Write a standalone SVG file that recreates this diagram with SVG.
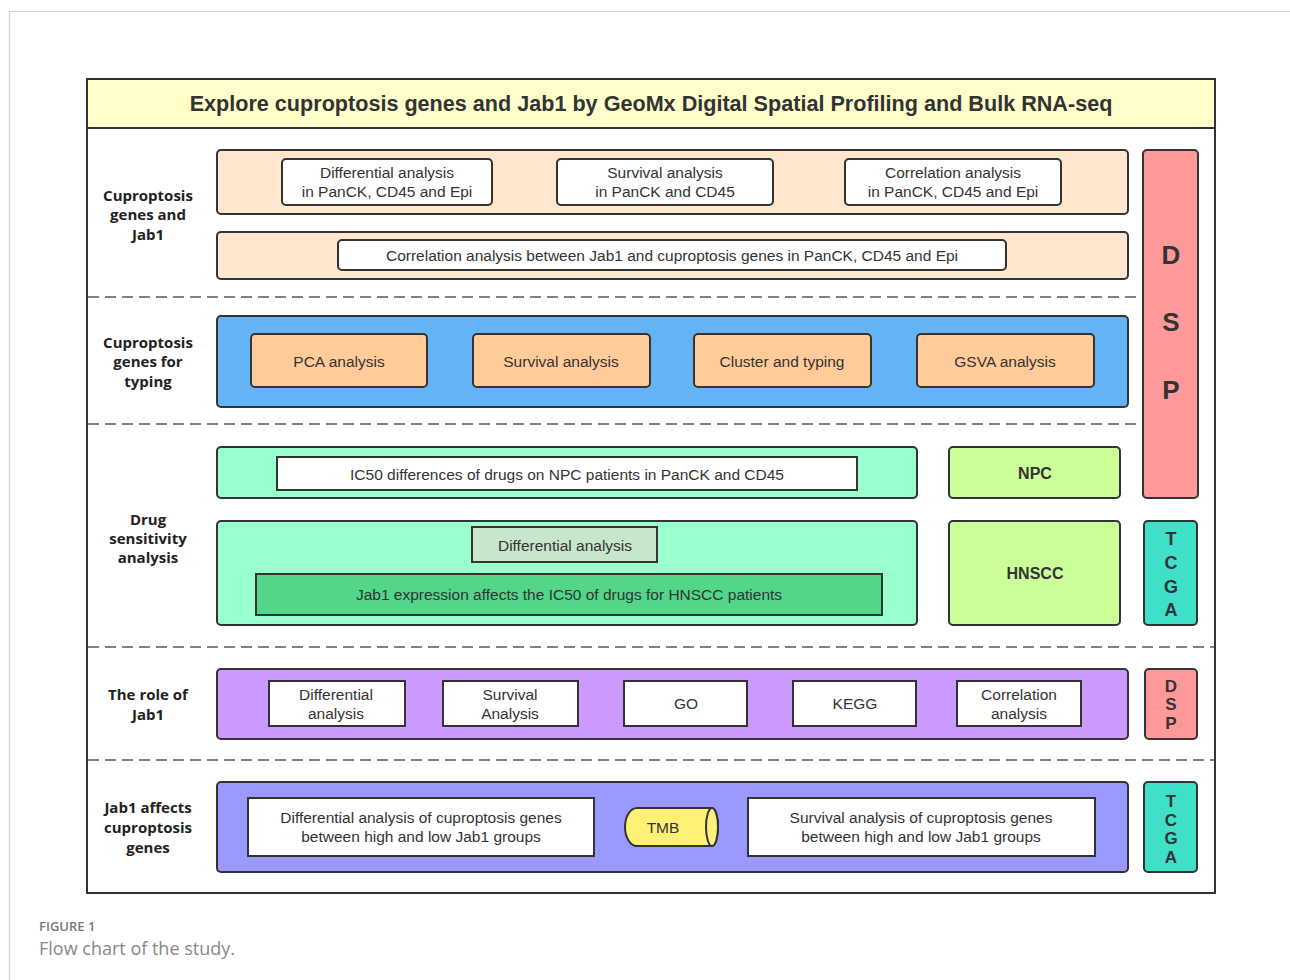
<svg xmlns="http://www.w3.org/2000/svg" width="1290" height="980" viewBox="0 0 1290 980">
<style>
.frame{fill:none;stroke:#d0d0d0;stroke-width:1.2}
.box{stroke:#333;stroke-width:2}
.inner{fill:#fff;stroke:#333;stroke-width:2}
.dash{stroke:#555;stroke-width:1.6;stroke-dasharray:11 6;fill:none}
.t{font-family:"Liberation Sans",Arial,sans-serif;font-size:15.5px;fill:#333;text-anchor:middle}
.lbl{font-family:"Open Sans","Noto Sans",sans-serif;font-size:15px;font-weight:bold;fill:#222;text-anchor:middle}
.big{font-family:"Liberation Sans",Arial,sans-serif;font-weight:bold;fill:#333;text-anchor:middle}
</style>
<rect width="1290" height="980" fill="#fff"/>
<path class="frame" d="M9.5,980 V11.5 H1290"/>

<g id="main">
<rect x="87" y="79" width="1128" height="814" fill="#fff" stroke="#333" stroke-width="2"/>
<rect x="87" y="79" width="1128" height="49" fill="#ffffcc" stroke="#333" stroke-width="2"/>
<text class="big" x="651" y="111" font-size="21.6">Explore cuproptosis genes and Jab1 by GeoMx Digital Spatial Profiling and Bulk RNA-seq</text>
</g>

<g id="dividers">
<line class="dash" x1="88" y1="297" x2="1140" y2="297"/>
<line class="dash" x1="88" y1="424" x2="1140" y2="424"/>
<line class="dash" x1="88" y1="647" x2="1214" y2="647"/>
<line class="dash" x1="88" y1="760" x2="1214" y2="760"/>
</g>

<g id="labels">
<text class="lbl" x="148" y="201">Cuproptosis</text>
<text class="lbl" x="148" y="220">genes and</text>
<text class="lbl" x="148" y="240">Jab1</text>
<text class="lbl" x="148" y="348">Cuproptosis</text>
<text class="lbl" x="148" y="367">genes for</text>
<text class="lbl" x="148" y="387">typing</text>
<text class="lbl" x="148" y="525">Drug</text>
<text class="lbl" x="148" y="544">sensitivity</text>
<text class="lbl" x="148" y="563">analysis</text>
<text class="lbl" x="148" y="700">The role of</text>
<text class="lbl" x="148" y="720">Jab1</text>
<text class="lbl" x="148" y="813">Jab1 affects</text>
<text class="lbl" x="148" y="833">cuproptosis</text>
<text class="lbl" x="148" y="853">genes</text>
</g>

<g id="section1">
<rect class="box" x="217" y="150" width="911" height="64" rx="4" fill="#ffe6cc"/>
<rect class="inner" x="282" y="159" width="210" height="46" rx="4"/>
<text class="t" x="387" y="178">Differential analysis</text>
<text class="t" x="387" y="197">in PanCK, CD45 and Epi</text>
<rect class="inner" x="557" y="159" width="216" height="46" rx="4"/>
<text class="t" x="665" y="178">Survival analysis</text>
<text class="t" x="665" y="197">in PanCK and CD45</text>
<rect class="inner" x="845" y="159" width="216" height="46" rx="4"/>
<text class="t" x="953" y="178">Correlation analysis</text>
<text class="t" x="953" y="197">in PanCK, CD45 and Epi</text>
<rect class="box" x="217" y="232" width="911" height="47" rx="4" fill="#ffe6cc"/>
<rect class="inner" x="338" y="240" width="668" height="30" rx="4"/>
<text class="t" x="672" y="261">Correlation analysis between Jab1 and cuproptosis genes in PanCK, CD45 and Epi</text>
</g>

<g id="dsp-main">
<rect class="box" x="1143" y="150" width="55" height="348" rx="4" fill="#ff9999"/>
<text class="big" x="1171" y="264" font-size="26">D</text>
<text class="big" x="1171" y="331" font-size="26">S</text>
<text class="big" x="1171" y="399" font-size="26">P</text>
</g>

<g id="section2">
<rect class="box" x="217" y="316" width="911" height="91" rx="4" fill="#63b3f5"/>
<rect class="box" x="251" y="334" width="176" height="53" rx="4" fill="#ffcc99"/>
<text class="t" x="339" y="367">PCA analysis</text>
<rect class="box" x="473" y="334" width="177" height="53" rx="4" fill="#ffcc99"/>
<text class="t" x="561" y="367">Survival analysis</text>
<rect class="box" x="694" y="334" width="177" height="53" rx="4" fill="#ffcc99"/>
<text class="t" x="782" y="367">Cluster and typing</text>
<rect class="box" x="917" y="334" width="177" height="53" rx="4" fill="#ffcc99"/>
<text class="t" x="1005" y="367">GSVA analysis</text>
</g>

<g id="section3">
<rect class="box" x="217" y="447" width="700" height="51" rx="4" fill="#99ffcc"/>
<rect class="inner" x="277" y="457" width="580" height="33"/>
<text class="t" x="567" y="480">IC50 differences of drugs on NPC patients in PanCK and CD45</text>
<rect class="box" x="949" y="447" width="171" height="51" rx="4" fill="#ccff99"/>
<text class="big" x="1035" y="479" font-size="16">NPC</text>
<rect class="box" x="217" y="521" width="700" height="104" rx="4" fill="#99ffcc"/>
<rect class="box" x="472" y="527" width="185" height="35" fill="#c8e6c9"/>
<text class="t" x="565" y="551">Differential analysis</text>
<rect class="box" x="256" y="574" width="626" height="41" fill="#52d68a"/>
<text class="t" x="569" y="600">Jab1 expression affects the IC50 of drugs for HNSCC patients</text>
<rect class="box" x="949" y="521" width="171" height="104" rx="4" fill="#ccff99"/>
<text class="big" x="1035" y="579" font-size="16">HNSCC</text>
<rect class="box" x="1144" y="521" width="53" height="104" rx="4" fill="#40e0c8"/>
<text class="big" x="1171" y="545" font-size="18">T</text>
<text class="big" x="1171" y="569" font-size="18">C</text>
<text class="big" x="1171" y="593" font-size="18">G</text>
<text class="big" x="1171" y="616" font-size="18">A</text>
</g>

<g id="section4">
<rect class="box" x="217" y="669" width="911" height="70" rx="4" fill="#cc99ff"/>
<rect class="inner" x="269" y="681" width="136" height="45"/>
<text class="t" x="336" y="700">Differential</text>
<text class="t" x="336" y="719">analysis</text>
<rect class="inner" x="443" y="681" width="135" height="45"/>
<text class="t" x="510" y="700">Survival</text>
<text class="t" x="510" y="719">Analysis</text>
<rect class="inner" x="624" y="681" width="123" height="45"/>
<text class="t" x="686" y="709">GO</text>
<rect class="inner" x="793" y="681" width="123" height="45"/>
<text class="t" x="855" y="709">KEGG</text>
<rect class="inner" x="957" y="681" width="124" height="45"/>
<text class="t" x="1019" y="700">Correlation</text>
<text class="t" x="1019" y="719">analysis</text>
<rect class="box" x="1145" y="669" width="52" height="70" rx="4" fill="#ff9999"/>
<text class="big" x="1171" y="692" font-size="17">D</text>
<text class="big" x="1171" y="710" font-size="17">S</text>
<text class="big" x="1171" y="729" font-size="17">P</text>
</g>

<g id="section5">
<rect class="box" x="217" y="782" width="911" height="90" rx="4" fill="#9999ff"/>
<rect class="inner" x="248" y="798" width="346" height="58"/>
<text class="t" x="421" y="823">Differential analysis of cuproptosis genes</text>
<text class="t" x="421" y="842">between high and low Jab1 groups</text>
<g id="tmb">
<path d="M637,808 H712 A6,19 0 0 1 712,846 H637 A12,19 0 0 1 637,808 Z" fill="#fff176" stroke="#333" stroke-width="2"/>
<ellipse cx="712" cy="827" rx="6" ry="19" fill="#fff176" stroke="#333" stroke-width="2"/>
<text class="t" x="663" y="833">TMB</text>
</g>
<rect class="inner" x="748" y="798" width="347" height="58"/>
<text class="t" x="921" y="823">Survival analysis of cuproptosis genes</text>
<text class="t" x="921" y="842">between high and low Jab1 groups</text>
<rect class="box" x="1144" y="782" width="53" height="90" rx="4" fill="#40e0c8"/>
<text class="big" x="1171" y="807" font-size="17">T</text>
<text class="big" x="1171" y="826" font-size="17">C</text>
<text class="big" x="1171" y="844" font-size="17">G</text>
<text class="big" x="1171" y="863" font-size="17">A</text>
</g>

<g id="caption">
<text x="39" y="931" font-family="'Open Sans','Noto Sans',sans-serif" font-size="13" font-weight="600" fill="#777">FIGURE 1</text>
<text x="39" y="955" font-family="'Open Sans','Noto Sans',sans-serif" font-size="18" fill="#888">Flow chart of the study.</text>
</g>
</svg>
